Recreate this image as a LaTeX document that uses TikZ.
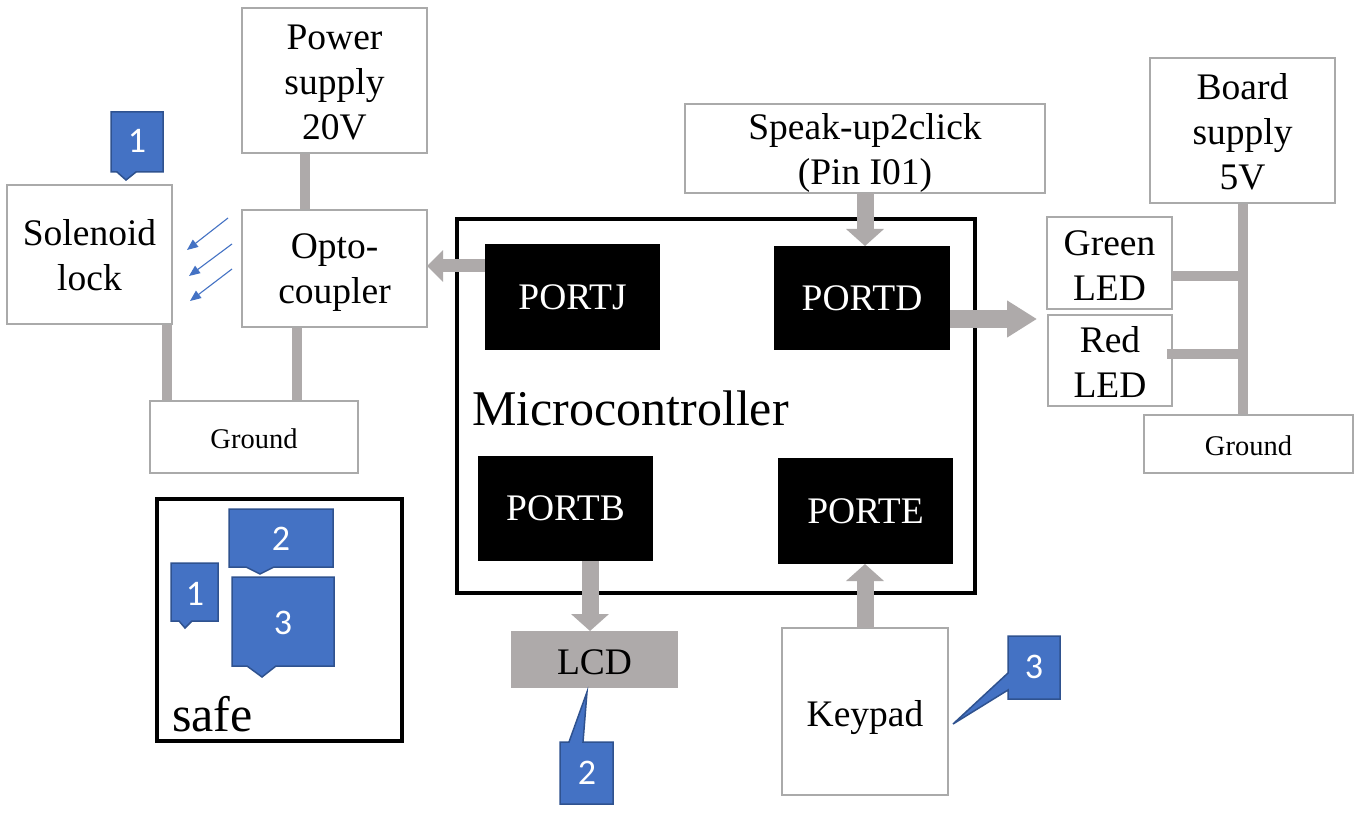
\documentclass[tikz,border=0pt]{standalone}
\usepackage{fontspec}
\setmainfont{Liberation Serif}
\newfontfamily\calibri{Carlito}
\usetikzlibrary{arrows.meta,backgrounds}
\definecolor{wgray}{HTML}{AEAAAA}
\definecolor{bgray}{HTML}{AAAAAA}
\definecolor{cblue}{HTML}{4472C4}
\definecolor{cblueb}{HTML}{2F528F}
\begin{document}
\begin{tikzpicture}[x=1pt,y=-1pt,
  box/.style={draw=bgray, line width=2pt, fill=white, inner sep=0pt, outer sep=0pt},
  tl/.style={align=center, inner sep=0pt, font=\fontsize{37.5}{45}\selectfont},
  gl/.style={inner sep=0pt, font=\fontsize{28.5}{32}\selectfont},
  port/.style={fill=black, text=white, inner sep=0pt, outer sep=0pt, minimum width=175pt, font=\fontsize{37.5}{45}\selectfont},
  frame/.style={draw=black, line width=4pt, inner sep=0pt, outer sep=0pt},
  wire/.style={draw=wgray, line width=10pt},
  fatarrow/.style={draw=wgray, line width=17pt, -{Triangle[width=37pt,length=17pt]}},
  bigarrow/.style={draw=wgray, line width=18pt, -{Triangle[width=35pt,length=30pt]}},
  callout/.style={fill=cblue, draw=cblueb, line width=1.5pt},
  num/.style={text=white, font=\calibri\fontsize{36}{42}\selectfont, inner sep=0pt},
  ray/.style={draw=cblue, line width=1.1pt, -{Triangle[width=9pt,length=11pt]}}
]
\useasboundingbox (0,0) rectangle (1354,818);
\begin{scope}[on background layer]
\fill[white] (0,0) rectangle (1354,818);
\end{scope}

% left side
\node[box, minimum width=185pt, minimum height=145pt, label={[tl,yshift=-2pt]center:Power\\supply\\20V}] (power) at (334.5,80.5) {};
\node[box, minimum width=185pt, minimum height=117pt, label={[tl,yshift=-4pt]center:Opto-\\coupler}] (opto) at (334.5,268.5) {};
\node[box, minimum width=165pt, minimum height=139pt, label={[tl,yshift=-1pt]center:Solenoid\\lock}] (sol) at (89.5,254.5) {};
\node[box, minimum width=208pt, minimum height=72pt, label={[gl,yshift=-2pt]center:Ground}] (gndL) at (254,437) {};

% microcontroller
\node[frame, minimum width=518pt, minimum height=374pt] (mc) at (716,406) {};
\node[anchor=west, inner sep=0pt, font=\fontsize{50}{58}\selectfont] (mclabel) at (472,408) {Microcontroller};
\node[port, minimum height=106pt] (portj) at (572.5,297) {PORTJ};
\node[port, minimum width=176pt, minimum height=104pt] (portd) at (862,298) {PORTD};
\node[port, minimum height=105pt] (portb) at (565.5,508.5) {PORTB};
\node[port, minimum height=106pt] (porte) at (865.5,511) {PORTE};

% top / right
\node[box, minimum width=360pt, minimum height=89pt, label={[tl,yshift=-4pt]center:Speak-up2click\\(Pin I01)}] (speak) at (865,149) {};
\node[box, minimum width=185pt, minimum height=145pt, label={[tl,yshift=-1pt]center:Board\\supply\\5V}] (board) at (1242.5,130.5) {};
\node[box, minimum width=125pt, minimum height=92pt, label={[tl,yshift=-3pt]center:Green\\LED}] (green) at (1109.5,263) {};
\node[box, minimum width=124pt, minimum height=91pt, label={[tl,yshift=-2pt]center:Red\\LED}] (red) at (1110,360.5) {};
\node[box, minimum width=209pt, minimum height=58pt, label={[gl,yshift=-2pt]center:Ground}] (gndR) at (1248.5,444) {};

% bottom
\node[fill=wgray, inner sep=0pt, outer sep=0pt, minimum width=167pt, minimum height=57pt, label={[tl,yshift=-3pt]center:LCD}] (lcd) at (594.5,659.5) {};
\node[box, minimum width=166pt, minimum height=167pt, label={[tl,yshift=-6pt]center:Keypad}] (keypad) at (865,711.5) {};

% safe
\node[frame, minimum width=245pt, minimum height=242pt] (safe) at (279.5,620) {};
\node[anchor=west, inner sep=0pt, font=\fontsize{50}{58}\selectfont] (safelabel) at (172,714) {safe};

% wires
\coordinate (w1) at (305,152);
\coordinate (w2) at (167,324);
\coordinate (w3) at (297,327);
\coordinate (g1) at (1172,276);
\coordinate (r1) at (1167,354);
\begin{scope}[on background layer]
\draw[wire] (w1) -- (w1 |- opto.north);
\draw[wire] (w2) -- (w2 |- gndL.north);
\draw[wire] (w3) -- (w3 |- gndL.north);
\draw[wire] (board.south) -- (board.south |- gndR.north);
\end{scope}
\draw[wire] (g1) -- (g1 -| board.south);
\draw[wire] (r1) -- (r1 -| board.south);

% fat arrows
\coordinate (aj) at (485,266);
\coordinate (ad) at (950,319);
\coordinate (adend) at (1037,319);
\coordinate (ab) at (590,561);
\draw[draw=wgray, line width=13pt, -{Triangle[width=31pt,length=16pt]}] (aj) -- (aj -| opto.east);
\draw[fatarrow] (speak.south) -- (speak.south |- portd.north);
\draw[bigarrow] (ad) -- (adend);
\draw[fatarrow] (ab) -- (ab |- lcd.north);
\draw[fatarrow] (keypad.north) -- (keypad.north |- porte.south);

% light rays
\coordinate (ra1) at (228,218); \coordinate (rb1) at (187,250);
\coordinate (ra2) at (232,244); \coordinate (rb2) at (189,276);
\coordinate (ra3) at (232,269); \coordinate (rb3) at (190,301);
\draw[ray] (ra1) -- (rb1);
\draw[ray] (ra2) -- (rb2);
\draw[ray] (ra3) -- (rb3);

% callouts
\path[callout] (111,112) -- (163,112) -- (163,172) -- (136,172) -- (126,180) -- (117,172) -- (111,172) -- cycle;
\node[num] (c1top) at (137,141) {1};
\path[callout] (229,509) -- (333,509) -- (333,567) -- (274,567) -- (260,574) -- (246,567) -- (229,567) -- cycle;
\node[num] (c2safe) at (281,539) {2};
\path[callout] (171,563) -- (218,563) -- (218,621) -- (192,621) -- (185,628) -- (179,621) -- (171,621) -- cycle;
\node[num] (c1safe) at (195,594) {1};
\path[callout] (232,577) -- (334,577) -- (334,666) -- (276,666) -- (262,677) -- (247,666) -- (232,666) -- cycle;
\node[num] (c3safe) at (283,623) {3};
\path[callout] (560,742) -- (569,742) -- (587,692) -- (583,742) -- (613,742) -- (613,804) -- (560,804) -- cycle;
\node[num] (c2lcd) at (587,773) {2};
\path[callout] (1008,636) -- (1060,636) -- (1060,699) -- (1008,699) -- (1008,690) -- (953,724) -- (1008,673) -- cycle;
\node[num] (c3key) at (1034,667) {3};
\end{tikzpicture}
\end{document}
